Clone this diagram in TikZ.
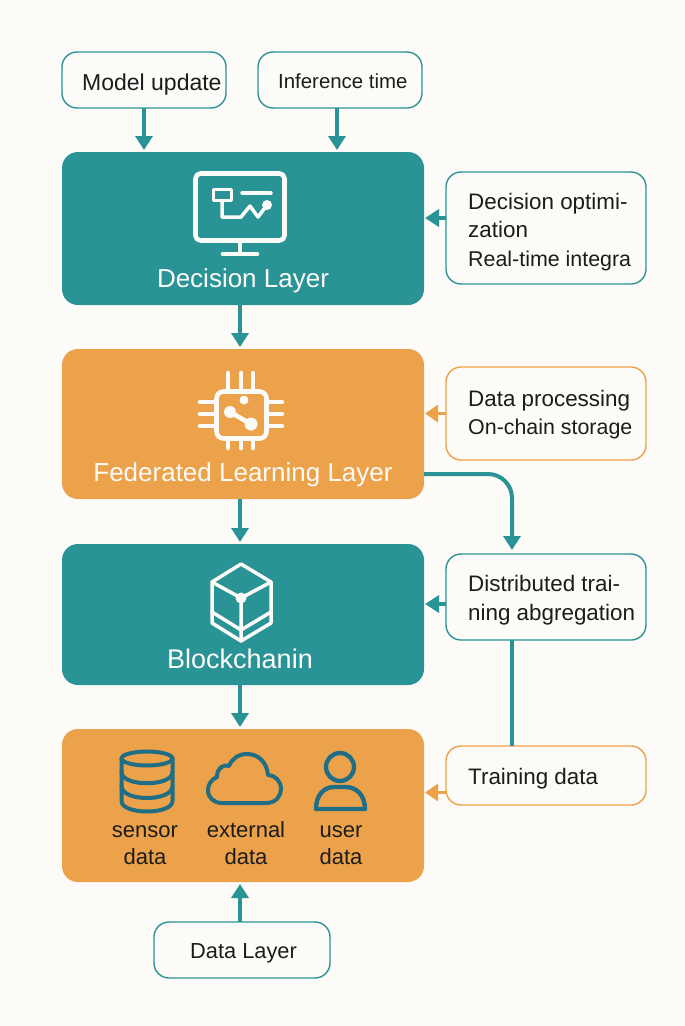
\documentclass[tikz,border=0pt]{standalone}
\usepackage{fontspec}
\setmainfont{Liberation Sans}
\usetikzlibrary{arrows.meta}
\definecolor{bgc}{HTML}{FDFBF8}
\definecolor{teal1}{HTML}{2A9396}
\definecolor{orange1}{HTML}{ECA24A}
\definecolor{deep}{HTML}{1F6E85}
\definecolor{ink}{HTML}{1C1C1C}
\newcommand{\nar}[1]{{\fontsize{21.4}{28.5}\selectfont #1}}
\tikzset{
  layer/.style={rounded corners=16pt,inner sep=0pt,outer sep=0pt,minimum width=362pt},
  tealbox/.style={layer,fill=teal1},
  orangebox/.style={layer,fill=orange1},
  note/.style={draw,line width=1.4pt,fill=bgc,rounded corners=15pt,inner sep=0pt,outer sep=0pt},
  tnote/.style={note,draw=teal1},
  onote/.style={note,draw=orange1},
  lbl/.style={inner sep=0pt,text=ink,font=\fontsize{22.4}{28.5}\selectfont,align=left,anchor=west},
  title/.style={inner sep=0pt,text=bgc,font=\fontsize{26}{30}\selectfont},
  small/.style={inner sep=0pt,text=ink,font=\fontsize{22}{27}\selectfont,align=center},
  flow/.style={draw=teal1,line width=4pt,-{Triangle[length=14pt,width=17pt]}},
  flowo/.style={draw=orange1,line width=3pt,-{Triangle[length=13pt,width=17pt]}},
  plain/.style={draw=teal1,line width=4pt},
  iconw/.style={draw=bgc,line width=4.6pt,line join=round,line cap=round},
  iconthin/.style={draw=bgc,line width=3.5pt,line join=round,line cap=round},
  iconb/.style={draw=deep,line width=4pt,line join=round,line cap=round},
}
\begin{document}
\begin{tikzpicture}[x=1pt,y=-1pt]
\fill[bgc] (0,0) rectangle (685,1026);
\useasboundingbox (0,0) rectangle (685,1026);
% layers
\node[tealbox,minimum height=153pt] (dec) at (243,228.5) {};
\node[orangebox,minimum height=150pt] (fed) at (243,424) {};
\node[tealbox,minimum height=141pt] (blk) at (243,614.5) {};
\node[orangebox,minimum height=153pt] (dat) at (243,805.5) {};
% top and bottom notes
\node[tnote,minimum width=164pt,minimum height=56pt] (mu) at (144,80) {};
\node[tnote,minimum width=164pt,minimum height=56pt] (inf) at (340,80) {};
\node[tnote,minimum width=176pt,minimum height=56pt] (dl) at (242,950) {};
% right notes
\node[tnote,minimum width=200pt,minimum height=112pt] (n1) at (546,228) {};
\node[onote,minimum width=200pt,minimum height=93pt] (n2) at (546,413.5) {};
\node[tnote,minimum width=200pt,minimum height=86pt] (n3) at (546,597) {};
\node[onote,minimum width=200pt,minimum height=59pt] (n4) at (546,775.5) {};
% note labels
\node[lbl,font=\fontsize{23}{28.5}\selectfont] (mut) at (82,84.5) {Model update};
\node[lbl,font=\fontsize{20.4}{28}\selectfont] (inft) at (278,81.5) {Inference time};
\node[lbl,font=\fontsize{21.8}{28.5}\selectfont] (dlt) at (190,953) {Data Layer};
\node[lbl] (n1t) at (468,232) {Decision optimi-\\zation\\\nar{Real-time integra}};
\node[lbl] (n2t) at (468,414.5) {Data processing\\\nar{On-chain storage}};
\node[lbl] (n3t) at (468,600) {Distributed trai-\\ning abgregation};
\node[lbl] (n4t) at (468,779) {Training data};
% titles
\node[title] (dect) at (243,281) {Decision Layer};
\node[title] (fedt) at (243,475) {Federated Learning Layer};
\node[title,font=\fontsize{27}{30}\selectfont] (blkt) at (240,659) {Blockchanin};
\node[small] (s1) at (145,845) {sensor\\data};
\node[small] (s2) at (246,843) {external\\data};
\node[small] (s3) at (341,845) {user\\data};
% connectors
\draw[flow] (mu.south) -- ([yshift=2pt]mu.south |- dec.north);
\draw[flow] ([xshift=-3pt]inf.south) -- ([xshift=-3pt,yshift=2pt]inf.south |- dec.north);
\draw[flow] ([xshift=-3pt]dec.south) -- ([xshift=-3pt,yshift=2pt]dec.south |- fed.north);
\draw[flow] ([xshift=-3pt]fed.south) -- ([xshift=-3pt,yshift=2pt]fed.south |- blk.north);
\draw[flow] ([xshift=-3pt]blk.south) -- ([xshift=-3pt,yshift=2pt]blk.south |- dat.north);
\draw[flow] ([xshift=-3pt]dat.south |- dl.north) -- ([xshift=-3pt,yshift=-2pt]dat.south);
\draw[flow] ([yshift=10pt]n1.west) -- ([xshift=1pt,yshift=10pt]n1.west -| dec.east);
\draw[flowo] (n2.west) -- ([xshift=1pt]n2.west -| fed.east);
\draw[flow] ([yshift=-7pt]n3.west) -- ([xshift=1pt,yshift=-7pt]n3.west -| blk.east);
\draw[flowo] ([yshift=-17pt]n4.west) -- ([xshift=1pt,yshift=-17pt]n4.west -| dat.east);
\draw[flow,rounded corners=24pt] ([yshift=-50pt]fed.east) -- ([yshift=-50pt,xshift=-34pt]n3.north |- fed.east) -- ([xshift=-34pt,yshift=4pt]n3.north);
\draw[plain] ([xshift=-34pt]n3.south) -- ([xshift=-34pt]n4.north);
% monitor icon
\draw[iconw,rounded corners=5pt] (195.5,173.5) rectangle (284.5,240.5);
\draw[iconw] (240,242) -- (240,253) (223,254) -- (257,254);
\draw[iconthin] (213.5,189.5) rectangle (231.5,200.5);
\draw[iconthin] (222,202) -- (222,217) -- (241,217) -- (250,206) -- (258,217) -- (267,205);
\draw[iconthin] (242,193) -- (271,193);
\fill[bgc] (267,205) circle (5pt);
% chip icon
\draw[iconw,rounded corners=7pt] (216.5,391.5) rectangle (266.5,438.5);
\foreach \px in {228,241,253} {\draw[iconw] (\px,373) -- (\px,390); \draw[iconw] (\px,440) -- (\px,448);}
\foreach \py in {402,414,426} {\draw[iconw] (200,\py) -- (215,\py); \draw[iconw] (268,\py) -- (282,\py);}
\draw[iconw] (230,412) -- (251,424);
\fill[bgc] (244,400) circle (4.5pt) (230,412) circle (6pt) (251,424) circle (6.5pt);
% cube icon
\draw[iconthin] (241,564) -- (271,582) -- (271,623) -- (241,641) -- (212,623) -- (212,582) -- cycle;
\draw[iconthin] (212,582) -- (241,598) -- (271,582) (241,598) -- (241,641) (212,612) -- (241,630) -- (271,612);
\fill[bgc] (241,598) circle (5.5pt);
% database icon
\draw[iconb] (147,758.5) ellipse (25.5pt and 7pt);
\draw[iconb] (121.5,758.5) -- (121.5,801) .. controls (121.5,815) and (172.5,815) .. (172.5,801) -- (172.5,758.5);
\draw[iconb] (121.5,772) .. controls (121.5,787) and (172.5,787) .. (172.5,772);
\draw[iconb] (121.5,786) .. controls (121.5,802) and (172.5,802) .. (172.5,786);
% cloud icon
\draw[iconb] (222,803) -- (266,803) .. controls (276,803) and (281,796) .. (281,789)
  .. controls (281,781) and (275,775) .. (268,775)
  .. controls (267,762) and (258,754) .. (247,754)
  .. controls (238,754) and (232,759) .. (229,766)
  .. controls (222,764) and (217,769) .. (217,777)
  .. controls (212,779) and (208,784) .. (208,790)
  .. controls (208,798) and (214,803) .. (222,803) -- cycle;
% user icon
\draw[iconb,line width=4.4pt] (340,767) circle (14pt);
\draw[iconb,line width=4.4pt] (316,809) -- (365,809) .. controls (365,795) and (356,787) .. (346,787) -- (334,787) .. controls (324,787) and (316,795) .. (316,809) -- cycle;
\end{tikzpicture}
\end{document}
